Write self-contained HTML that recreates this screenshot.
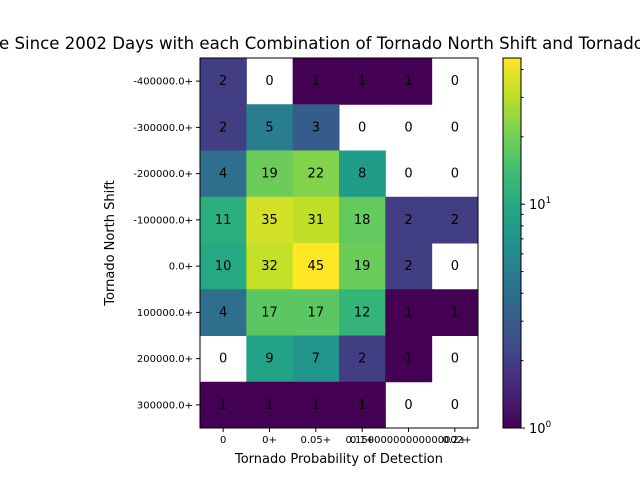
<!DOCTYPE html>
<html><head><meta charset="utf-8"><style>body{margin:0;background:#fff}svg{display:block;font-family:"DejaVu Sans","Liberation Sans",sans-serif}</style></head>
<body>
<svg id="c" width="640" height="480"></svg>
<script>
const xLabels=["0","0+","0.05+","0.1+","0.15000000000000002+","0.2+"];
const yLabels=["-400000.0+","-300000.0+","-200000.0+","-100000.0+","0.0+","100000.0+","200000.0+","300000.0+"];
const counts=[
[2,0,1,1,1,0],
[2,5,3,0,0,0],
[4,19,22,8,0,0],
[11,35,31,18,2,2],
[10,32,45,19,2,0],
[4,17,17,12,1,1],
[0,9,7,2,1,0],
[1,1,1,1,0,0]];
const vmin=1,vmax=45;
const L=200,R=478,T=58,B=428;
const cw=(R-L)/xLabels.length,ch=(B-T)/yLabels.length;
const vir=[[68,1,84],[72,36,117],[65,68,135],[53,95,141],[42,120,142],[33,145,140],[34,168,132],[68,190,112],[122,209,81],[189,223,38],[253,231,37]];
function col(t){t=Math.max(0,Math.min(1,t));const p=t*(vir.length-1),i=Math.min(Math.floor(p),vir.length-2),f=p-i;const a=vir[i],b=vir[i+1];return`rgb(${a.map((v,k)=>Math.round(v+(b[k]-v)*f)).join(",")})`;}
function tnorm(v){return Math.log(v/vmin)/Math.log(vmax/vmin);}
const s=document.getElementById('c');const NS="http://www.w3.org/2000/svg";
function el(t,a,txt){const e=document.createElementNS(NS,t);for(const k in a)e.setAttribute(k,a[k]);if(txt!=null)e.textContent=txt;s.appendChild(e);return e;}
counts.forEach((row,r)=>row.forEach((v,c)=>{
 if(v>0){const e=el('rect',{x:L+c*cw,y:T+r*ch,width:cw+0.5,height:ch+0.5,fill:col(tnorm(v))});
 
 }
 const t=el('text',{x:L+(c+0.5)*cw,y:T+(r+0.5)*ch+4,'text-anchor':'middle','font-size':13,fill:'#000'},v);
 
 
}));
el('rect',{x:L,y:T,width:R-L,height:B-T,fill:'none',stroke:'#000','stroke-width':1});
xLabels.forEach((l,i)=>{const x=L+(i+0.5)*cw;el('line',{x1:x,x2:x,y1:B,y2:B+4,stroke:'#000'});
 const t=el('text',{x:x,y:B+15,'text-anchor':'middle','font-size':10},l);
 });
yLabels.forEach((l,i)=>{const y=T+(i+0.5)*ch;el('line',{x1:L-4,x2:L,y1:y,y2:y,stroke:'#000'});
 const t=el('text',{x:L-7,y:y+3.5,'text-anchor':'end','font-size':10},l);
 });
const xt=el('text',{x:339,y:463,'text-anchor':'middle','font-size':13},'Tornado Probability of Detection');

const yt=el('text',{x:0,y:0,'text-anchor':'middle','font-size':13,transform:'translate(114,243) rotate(-90)'},'Tornado North Shift');

const tt=el('text',{x:-1,y:49,'text-anchor':'start','font-size':16.6},'e Since 2002 Days with each Combination of Tornado North Shift and Tornado Probability of Detection');

const CL=503,CR=521;
const defs=el('defs',{});const g=document.createElementNS(NS,'linearGradient');g.setAttribute('id','vg');g.setAttribute('x1',0);g.setAttribute('x2',0);g.setAttribute('y1',1);g.setAttribute('y2',0);defs.appendChild(g);
for(let i=0;i<=20;i++){const st=document.createElementNS(NS,'stop');st.setAttribute('offset',i/20);st.setAttribute('stop-color',col(i/20));g.appendChild(st);}
const cb=el('rect',{x:CL,y:T,width:CR-CL,height:B-T,fill:'url(#vg)',stroke:'#000','stroke-width':1});

function cy(v){return B-tnorm(v)*(B-T);}
[2,3,4,5,6,7,8,9,20,30,40].forEach(v=>el('line',{x1:CR,x2:CR+2.5,y1:cy(v),y2:cy(v),stroke:'#000'}));
[[1,'0'],[10,'1']].forEach(([v,e])=>{el('line',{x1:CR,x2:CR+4,y1:cy(v),y2:cy(v),stroke:'#000'});
 const t=el('text',{x:CR+8,y:cy(v)+5,'font-size':13},'10');
 const sp=document.createElementNS(NS,'tspan');sp.setAttribute('dy',-6);sp.setAttribute('font-size',9);sp.textContent=e;t.appendChild(sp);
 });
</script>
</body></html>
